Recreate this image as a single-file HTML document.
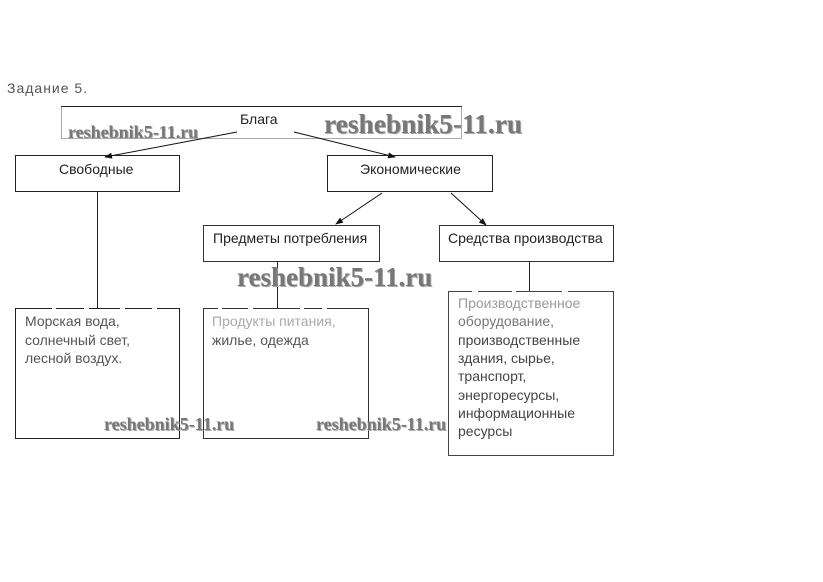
<!DOCTYPE html>
<html><head><meta charset="utf-8">
<style>
html,body{margin:0;padding:0;background:#fff}
#c{position:relative;width:823px;height:582px;overflow:hidden;background:#fff;font-family:"Liberation Sans",sans-serif;color:#222}
.t{position:absolute;font-size:14px;line-height:18.5px;white-space:nowrap}
.w{position:absolute;font-family:"Liberation Serif",serif;font-weight:bold;color:#777;white-space:nowrap;text-shadow:1px 1px 0 #aaa}
svg{position:absolute;left:0;top:0}
</style></head><body>
<div id="c">
<svg width="823" height="582" fill="none">
<defs><marker id="a" markerWidth="8" markerHeight="6" refX="7" refY="3" orient="auto" markerUnits="userSpaceOnUse"><path d="M0 0L8 3L0 6z" fill="#111"/></marker></defs>
<rect x="61.5" y="106.5" width="400" height="32" stroke="#aaa"/>
<path d="M61 106.5H462" stroke="#222"/>
<rect x="15.5" y="155.5" width="164" height="36" stroke="#222"/>
<rect x="327.5" y="155.5" width="165" height="36" stroke="#222"/>
<rect x="203.5" y="225.5" width="176" height="36" stroke="#333"/>
<rect x="439.5" y="225.5" width="174" height="36" stroke="#333"/>
<rect x="15.5" y="308.5" width="164" height="130" stroke="#222"/>
<rect x="203.5" y="308.5" width="165" height="130" stroke="#333"/>
<rect x="448.5" y="291.5" width="165" height="164" stroke="#444"/>
<path d="M97.5 192V308M277.5 262V308M529.5 262V291" stroke="#222"/>
<path d="M52 308.5h4M84 308.5h5M120 308.5h5M152 308.5h5M218 308.5h4M248 308.5h5M300 308.5h4M322 308.5h5M472 291.5h6M512 291.5h4M562 291.5h6" stroke="#fff" stroke-width="1.5"/>
<path d="M237 132L105 157" stroke="#111" marker-end="url(#a)"/>
<path d="M294 132L395 157" stroke="#111" marker-end="url(#a)"/>
<path d="M382 193L336 224" stroke="#111" marker-end="url(#a)"/>
<path d="M451 193L486 225" stroke="#111" marker-end="url(#a)"/>
</svg>
<div class="t" style="left:7px;top:79px;letter-spacing:1px;color:#555">Задание 5.</div>
<div class="t" style="left:240px;top:110px">Блага</div>
<div class="t" style="left:59px;top:160px">Свободные</div>
<div class="t" style="left:360px;top:160px">Экономические</div>
<div class="t" style="left:213px;top:229px">Предметы потребления</div>
<div class="t" style="left:448px;top:229px">Средства производства</div>
<div class="t" style="left:25px;top:312px;color:#555">Морская вода,<br>солнечный свет,<br>лесной воздух.</div>
<div class="t" style="left:212px;top:312px;color:#555"><span style="color:#aaa">Продукты питания,</span><br>жилье, одежда</div>
<div class="t" style="left:458px;top:294px;line-height:18.35px;color:#444"><span style="color:#999">Производственное</span><br><span style="color:#777">оборудование,</span><br>производственные<br>здания, сырье,<br>транспорт,<br>энергоресурсы,<br>информационные<br>ресурсы</div>
<div class="w" style="left:68px;top:122px;font-size:18px;line-height:20px">reshebnik5-11.ru</div>
<div class="w" style="left:324px;top:110px;font-size:27.4px;line-height:28px">reshebnik5-11.ru</div>
<div class="w" style="left:237px;top:263px;font-size:27px;line-height:28px">reshebnik5-11.ru</div>
<div class="w" style="left:104px;top:414px;font-size:18px;line-height:20px">reshebnik5-11.ru</div>
<div class="w" style="left:316px;top:414px;font-size:18px;line-height:20px">reshebnik5-11.ru</div>
</div>
</body></html>
